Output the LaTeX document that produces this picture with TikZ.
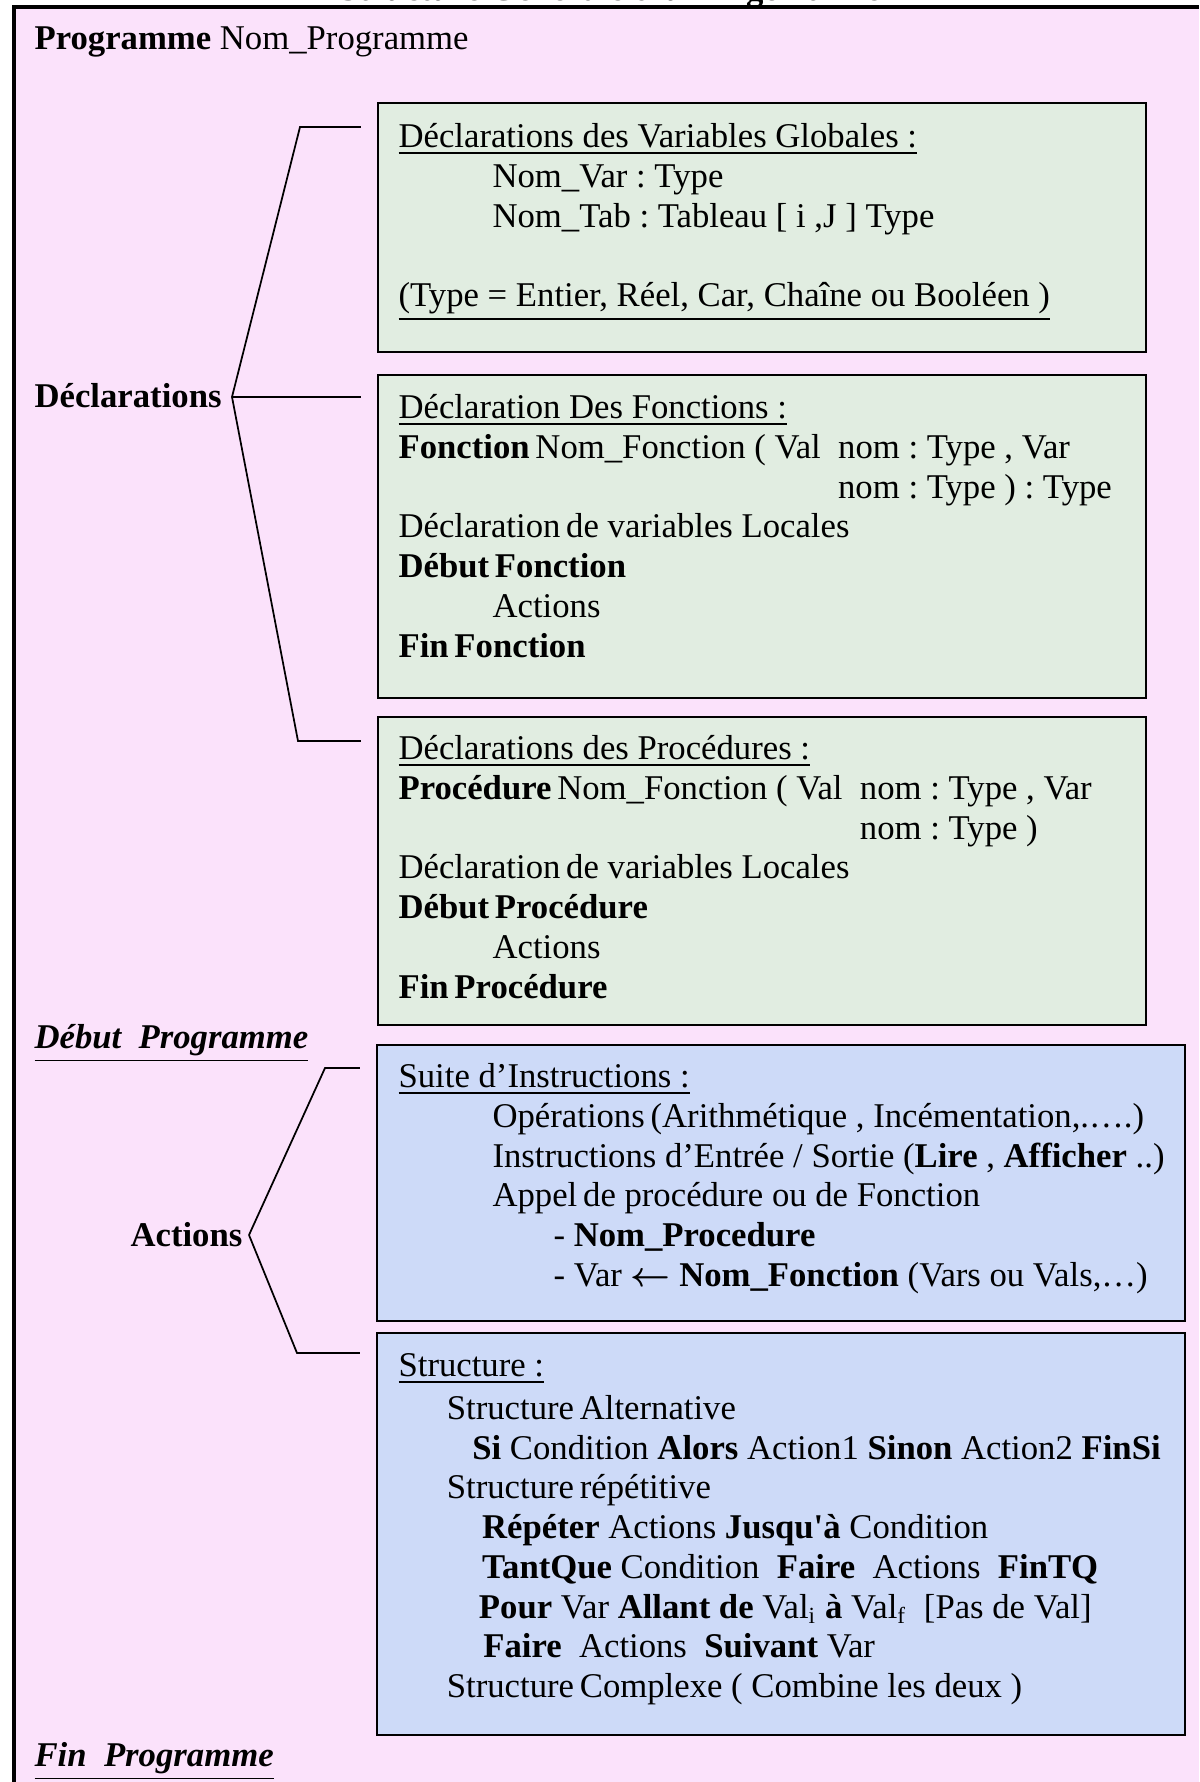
\documentclass[tikz,border=0pt]{standalone}
\usepackage{fontspec}
\usepackage{amsmath}
\setmainfont{Liberation Serif}
\usetikzlibrary{fit}
\setlength{\parindent}{0pt}
\frenchspacing

\definecolor{rose}{RGB}{251,226,251}
\definecolor{vertpale}{RGB}{225,237,225}
\definecolor{bleupale}{RGB}{205,218,248}

\newcommand{\tabA}{\hspace*{32.5pt}}
\newcommand{\tabB}{\hspace*{53.6pt}}
\newcommand{\ps}{\hspace{2pt}}
\newcommand{\ressort}{\spaceskip=3pt\relax\xspaceskip=3pt\relax}

\begin{document}
\begin{tikzpicture}[x=0.3458pt, y=-0.3458pt,
	cadre/.style={line width=1.2pt},
	boiteverte/.style={draw, line width=0.8pt, fill=vertpale, inner sep=0pt},
	boitebleue/.style={draw, line width=0.8pt, fill=bleupale, inner sep=0pt},
	texte/.style={anchor=north west, yshift=9.625pt, inner sep=0pt, align=left, text width=300pt, font=\fontsize{12}{13.75}\selectfont, execute at begin node=\ressort\strut},
	etiquette/.style={anchor=base west, inner sep=0pt, font=\fontsize{12}{13.75}\selectfont},
	accolade/.style={line width=0.6pt, shorten >=5.5pt}]
		\useasboundingbox (0,0) rectangle (1199,1782);
		\fill[rose] (14,7) rectangle (1199,1782);
		\draw[cadre] (14,1782) -- (14,7) -- (1199,7);
		\node[etiquette, anchor=base] (titre) at (610,1) {\textbf{Structure Générale d'un Algorithme}};

		\node[etiquette] (prog) at (34,50) {\textbf{Programme} Nom\_Programme};
		\node[etiquette] (decl) at (34,408) {\textbf{Déclarations}};
		\node[etiquette] (debut) at (34,1048) {\textbf{\textit{\underline{Début~~Programme}}}};
		\node[etiquette] (actions) at (130,1246) {\textbf{Actions}};
		\node[etiquette] (fin) at (34,1766) {\textbf{\textit{\underline{Fin~~Programme}}}};

		% les blocs
		\node[boiteverte, fit={(378,103) (1146,352)}] (globales) {};
		\node[boiteverte, fit={(378,375) (1146,698)}] (fonctions) {};
		\node[boiteverte, fit={(378,717) (1146,1025)}] (procedures) {};
		\node[boitebleue, fit={(377,1045) (1185,1321)}] (suite) {};
		\node[boitebleue, fit={(377,1333) (1185,1735)}] (structure) {};

		\node[texte] (txtglob) at (398,147) {\underline{Déclarations des Variables Globales :}\\
			\tabA Nom\_Var : Type\\
			\tabA Nom\_Tab : Tableau [ i ,J ] Type\\[13.75pt]
			\underline{(Type = Entier, Réel, Car, Chaîne ou Booléen )}};
		\node[texte] (txtfonc) at (398,418) {\underline{Déclaration Des Fonctions :}\\
			\textbf{Fonction}\ps Nom\_Fonction ( Val~~nom : Type , Var\\
			\phantom{\textbf{Fonction}\ps Nom\_Fonction ( Val~~}nom : Type ) : Type\\
			Déclaration\ps de variables Locales\\
			\textbf{Début\ps Fonction}\\
			\tabA Actions\\
			\textbf{Fin\ps Fonction}};
		\node[texte] (txtproc) at (398,759) {\underline{Déclarations des Procédures :}\\
			\textbf{Procédure}\ps Nom\_Fonction ( Val~~nom : Type , Var\\
			\phantom{\textbf{Procédure}\ps Nom\_Fonction ( Val~~}nom : Type )\\
			Déclaration\ps de variables Locales\\
			\textbf{Début\ps Procédure}\\
			\tabA Actions\\
			\textbf{Fin\ps Procédure}};
		\node[texte] (txtsuite) at (398,1087) {\underline{Suite d’Instructions :}\\
			\tabA Opérations\ps(Arithmétique , Incémentation,.….)\\
			\tabA Instructions d’Entrée / Sortie (\textbf{Lire} , \textbf{Afficher} ..)\\
			\tabA Appel\ps de procédure ou de Fonction\\
			\tabB - \textbf{Nom\_Procedure}\\
			\tabB - Var $\boldsymbol{\leftarrow}$ \textbf{Nom\_Fonction} (Vars ou Vals,…)};
		\node[texte] (txtstruct) at (398,1376) {\underline{Structure :}\\[1pt]
			\hspace*{16.7pt}Structure\ps Alternative\\
			\hspace*{25.5pt}\textbf{Si} Condition \textbf{Alors} Action1 \textbf{Sinon} Action2 \textbf{FinSi}\\
			\hspace*{16.7pt}Structure\ps répétitive\\
			\hspace*{28.9pt}\textbf{Répéter} Actions \textbf{Jusqu\textquotesingle à} Condition\\
			\hspace*{28.9pt}\textbf{TantQue} Condition~~\textbf{Faire}~~Actions~~\textbf{FinTQ}\\
			\hspace*{27.8pt}\textbf{Pour} Var \textbf{Allant de} Val\textsubscript{i} \textbf{à} Val\textsubscript{f}~~[Pas de Val]\\
			\hspace*{29.3pt}\textbf{Faire}~~Actions~~\textbf{Suivant} Var\\
			\hspace*{16.7pt}Structure\ps Complexe ( Combine les deux )};

		% accolades
		\coordinate (dtip) at (232,397);
		\coordinate (dhaut) at (300,127);
		\coordinate (dbas) at (298,741);
		\draw[accolade] (dtip) -- (dhaut) -- (globales.west |- dhaut);
		\draw[accolade] (dtip) -- (fonctions.west |- dtip);
		\draw[accolade] (dtip) -- (dbas) -- (procedures.west |- dbas);
		\coordinate (atip) at (249,1235);
		\coordinate (ahaut) at (325,1068);
		\coordinate (abas) at (297,1353);
		\draw[accolade] (atip) -- (ahaut) -- (suite.west |- ahaut);
		\draw[accolade] (atip) -- (abas) -- (structure.west |- abas);
	\end{tikzpicture}
\end{document}
